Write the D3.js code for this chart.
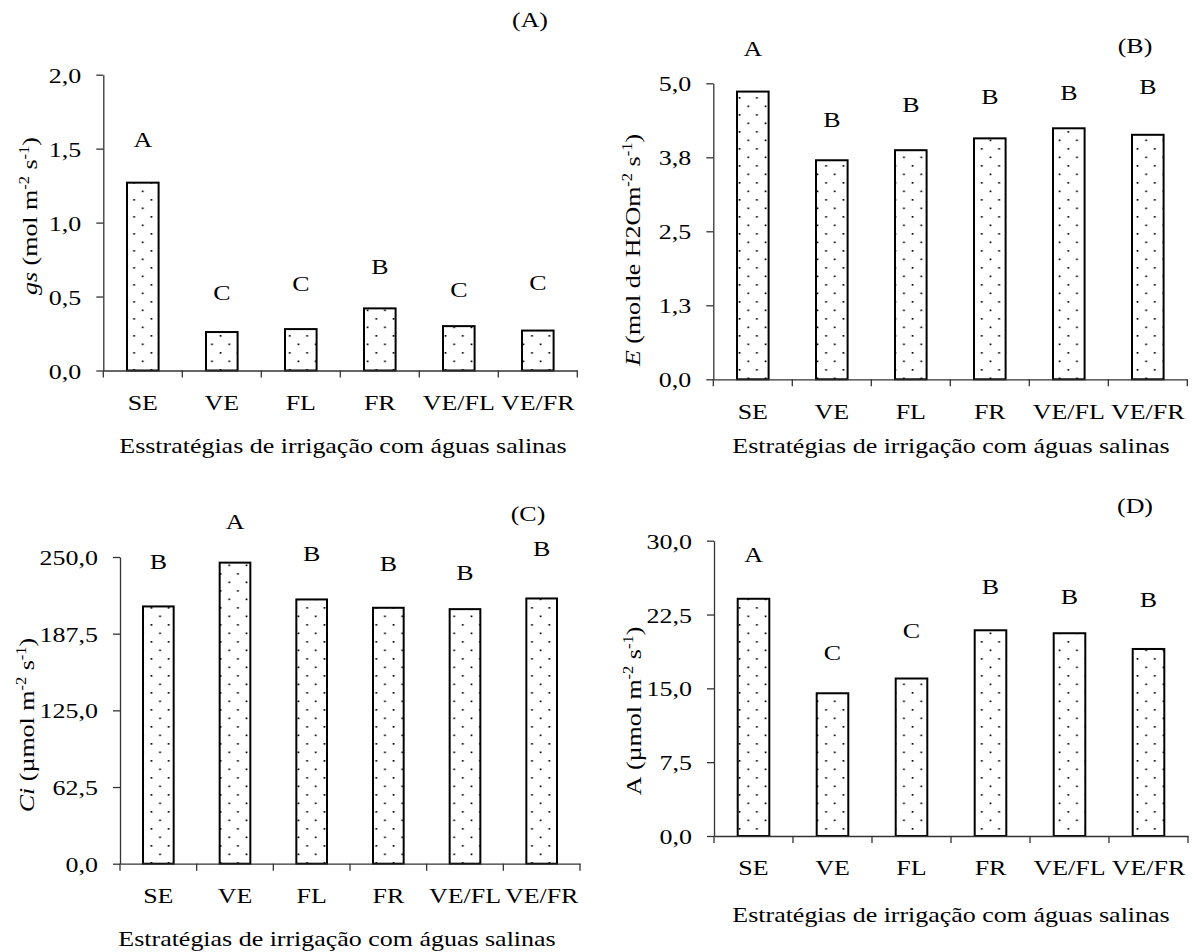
<!DOCTYPE html>
<html>
<head>
<meta charset="utf-8">
<script src="https://cdn.jsdelivr.net/npm/d3@7"></script>
<style>
  html, body { margin: 0; padding: 0; background: #fff; }
  svg { display: block; }
  text { font-family: "Liberation Serif", "Times New Roman", serif; font-size: 22px; fill: #000; }
</style>
</head>
<body>
<svg id="chart" width="1193" height="952"></svg>
<script>
// ---------------- DATA ----------------
const categories = ["SE", "VE", "FL", "FR", "VE/FL", "VE/FR"];

const gsValues    = [1.27, 0.26, 0.28, 0.42, 0.30, 0.27];
const gsLetters   = ["A", "C", "C", "B", "C", "C"];
const gsLetterPos = [1.51, 0.48, 0.54, 0.655, 0.495, 0.545];
const gsTicks     = [0, 0.5, 1.0, 1.5, 2.0];
const gsTickLabels = ["0,0", "0,5", "1,0", "1,5", "2,0"];

const eValues    = [4.86, 3.70, 3.87, 4.07, 4.24, 4.13];
const eLetters   = ["A", "B", "B", "B", "B", "B"];
const eLetterPos = [5.46, 4.26, 4.52, 4.65, 4.72, 4.82];
const eTicks     = [0, 1.25, 2.5, 3.75, 5.0];
const eTickLabels = ["0,0", "1,3", "2,5", "3,8", "5,0"];

const ciValues    = [209.7, 245.4, 215.4, 208.6, 207.5, 216.2];
const ciLetters   = ["B", "A", "B", "B", "B", "B"];
const ciLetterPos = [240.2, 272.9, 247.0, 238.3, 230.9, 250.5];
const ciTicks     = [0, 62.5, 125, 187.5, 250];
const ciTickLabels = ["0,0", "62,5", "125,0", "187,5", "250,0"];

const aValues    = [24.1, 14.5, 16.0, 20.9, 20.6, 19.0];
const aLetters   = ["A", "C", "C", "B", "B", "B"];
const aLetterPos = [27.86, 17.9, 20.15, 24.56, 23.54, 23.27];
const aTicks     = [0, 7.5, 15, 22.5, 30];
const aTickLabels = ["0,0", "7,5", "15,0", "22,5", "30,0"];

// ---------------- LAYOUT ----------------
const SX = 1.18; // stretch of the original typesetting along the text direction
const svg = d3.select("#chart");

const defs = svg.append("defs");
const pat = defs.append("pattern")
  .attr("id", "dots").attr("patternUnits", "userSpaceOnUse")
  .attr("width", 17.3).attr("height", 17);
pat.append("rect").attr("width", 17.3).attr("height", 17).attr("fill", "#fff");
pat.append("rect").attr("x", 3.5).attr("y", 3.5).attr("width", 1.7).attr("height", 1.7).attr("fill", "#000");
pat.append("rect").attr("x", 12.15).attr("y", 12).attr("width", 1.7).attr("height", 1.7).attr("fill", "#000");

function stretchedText(parent, x, y, anchor, rotate) {
  return parent.append("text")
    .attr("transform", `translate(${x},${y})` + (rotate ? " rotate(-90)" : "") + ` scale(${SX},1)`)
    .attr("text-anchor", anchor);
}

function addTitle(textSel, parts) {
  parts.forEach(p => {
    const t = textSel.append("tspan").text(p.t);
    if (p.i) t.attr("font-style", "italic");
    if (p.sup) t.attr("font-size", "14px").attr("dy", -8);
    if (p.after) t.attr("dy", 8);
  });
}

const panels = [
  { x0: 103.3, x1: 577.3, yTop: 74.7, y0: 370.5, max: 2.0,
    values: gsValues, letters: gsLetters, letterPos: gsLetterPos,
    ticks: gsTicks, tickLabels: gsTickLabels,
    tag: "(A)", tagX: 530, tagY: 27,
    xTitle: "Esstratégias de irrigação com águas salinas", xTitleX: 343, xTitleY: 453,
    yTitleX: 37, yTitleY: 216,
    yTitle: [{t: "gs", i: true}, {t: " (mol m"}, {t: "-2", sup: true}, {t: " s", after: true}, {t: "-1", sup: true}, {t: ")", after: true}] },
  { x0: 713.3, x1: 1187.3, yTop: 83.3, y0: 379.3, max: 5.0,
    values: eValues, letters: eLetters, letterPos: eLetterPos,
    ticks: eTicks, tickLabels: eTickLabels,
    tag: "(B)", tagX: 1135, tagY: 53,
    xTitle: "Estratégias de irrigação com águas salinas", xTitleX: 951, xTitleY: 453,
    yTitleX: 640, yTitleY: 250,
    yTitle: [{t: "E", i: true}, {t: " (mol de H2Om"}, {t: "-2", sup: true}, {t: " s", after: true}, {t: "-1", sup: true}, {t: ")", after: true}] },
  { x0: 120, x1: 580, yTop: 557, y0: 863.7, max: 250,
    values: ciValues, letters: ciLetters, letterPos: ciLetterPos,
    ticks: ciTicks, tickLabels: ciTickLabels,
    tag: "(C)", tagX: 528, tagY: 521,
    xTitle: "Estratégias de irrigação com águas salinas", xTitleX: 337, xTitleY: 946,
    yTitleX: 34, yTitleY: 725,
    yTitle: [{t: "Ci", i: true}, {t: " (µmol m"}, {t: "-2", sup: true}, {t: " s", after: true}, {t: "-1", sup: true}, {t: ")", after: true}] },
  { x0: 714, x1: 1188, yTop: 540.7, y0: 836, max: 30,
    values: aValues, letters: aLetters, letterPos: aLetterPos,
    ticks: aTicks, tickLabels: aTickLabels,
    tag: "(D)", tagX: 1135, tagY: 513,
    xTitle: "Estratégias de irrigação com águas salinas", xTitleX: 951, xTitleY: 922,
    yTitleX: 641, yTitleY: 711,
    yTitle: [{t: "A"}, {t: " (µmol m"}, {t: "-2", sup: true}, {t: " s", after: true}, {t: "-1", sup: true}, {t: ")", after: true}] }
];

panels.forEach(p => {
  const g = svg.append("g");
  const x = d3.scaleBand().domain(categories).range([p.x0, p.x1]).paddingInner(0).paddingOuter(0);
  const y = d3.scaleLinear().domain([0, p.max]).range([p.y0, p.yTop]);
  const bw = x.bandwidth();
  const barW = bw * 0.4;

  // bars
  g.selectAll("rect.bar").data(p.values).join("rect")
    .attr("class", "bar")
    .attr("x", (d, i) => x(categories[i]) + (bw - barW) / 2)
    .attr("y", d => y(d))
    .attr("width", barW)
    .attr("height", d => y(0) - y(d))
    .attr("fill", "url(#dots)")
    .attr("stroke", "#000")
    .attr("stroke-width", 2);

  // y axis
  const yAxis = g.append("g").attr("transform", `translate(${p.x0},0)`)
    .call(d3.axisLeft(y).tickValues(p.ticks).tickSize(7).tickSizeOuter(0)
      .tickFormat((d, i) => p.tickLabels[i]));
  yAxis.attr("font-size", null).attr("font-family", null);
  yAxis.select(".domain").attr("stroke", "#333").attr("stroke-width", 1.3);
  yAxis.selectAll(".tick line").attr("stroke", "#333").attr("stroke-width", 1.3);
  yAxis.selectAll(".tick text")
    .attr("x", -22 / SX).attr("dy", null).attr("y", 7.5)
    .attr("transform", `scale(${SX},1)`)
    .attr("fill", "#000");

  // x axis
  const xAxis = g.append("g").attr("transform", `translate(0,${p.y0})`)
    .call(d3.axisBottom(x).tickSize(0).tickSizeOuter(0));
  xAxis.attr("font-size", null).attr("font-family", null);
  xAxis.select(".domain").attr("stroke", "#333").attr("stroke-width", 1.3);
  xAxis.selectAll(".tick text")
    .attr("y", 39.5).attr("dy", null)
    .attr("transform", `scale(${SX},1)`)
    .attr("fill", "#000");
  g.selectAll("line.bt").data(d3.range(categories.length + 1)).join("line")
    .attr("class", "bt")
    .attr("x1", i => p.x0 + i * bw).attr("x2", i => p.x0 + i * bw)
    .attr("y1", p.y0).attr("y2", p.y0 + 7)
    .attr("stroke", "#333").attr("stroke-width", 1.3);

  // significance letters
  p.letters.forEach((L, i) => {
    stretchedText(g, x(categories[i]) + bw / 2, y(p.letterPos[i]), "middle").text(L);
  });

  // panel tag
  stretchedText(g, p.tagX, p.tagY, "middle").text(p.tag);

  // x title
  stretchedText(g, p.xTitleX, p.xTitleY, "middle").text(p.xTitle);

  // y title
  addTitle(stretchedText(g, p.yTitleX, p.yTitleY, "middle", true), p.yTitle);
});
</script>
</body>
</html>
